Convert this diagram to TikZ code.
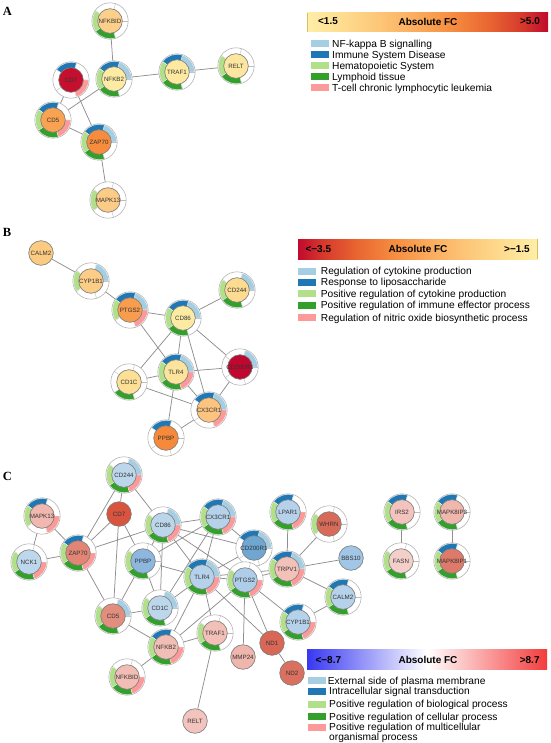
\documentclass[tikz,border=0pt]{standalone}
\usepackage{fontspec}
\setmainfont{Liberation Sans}
\newfontfamily\panelfont{Liberation Serif}
\usetikzlibrary{backgrounds,calc}
\definecolor{seg1}{HTML}{A6CEE3}
\definecolor{seg2}{HTML}{1F78B4}
\definecolor{seg3}{HTML}{B2DF8A}
\definecolor{seg4}{HTML}{33A02C}
\definecolor{seg5}{HTML}{FB9A99}
\definecolor{edgecol}{HTML}{8F8F8F}
\definecolor{nodeborder}{HTML}{7A7A7A}
\definecolor{ringcol}{HTML}{A8A8A8}
\definecolor{divcol}{HTML}{BDBDBD}
\definecolor{genetext}{HTML}{333333}
\definecolor{fa0}{HTML}{FFEEA8}
\definecolor{fa1}{HTML}{FEDD90}
\definecolor{fa2}{HTML}{FDC678}
\definecolor{fa3}{HTML}{FBAA5C}
\definecolor{fa4}{HTML}{F68D40}
\definecolor{fa5}{HTML}{E86431}
\definecolor{fa6}{HTML}{D5372C}
\definecolor{fa7}{HTML}{C00A2E}
\definecolor{baredge}{HTML}{D9BE62}
\definecolor{fcblue}{HTML}{3838F2}
\definecolor{fcred}{HTML}{F43C3C}
\pgfdeclarehorizontalshading{fcA}{100bp}{color(0bp)=(fa0); color(25bp)=(fa0); color(32bp)=(fa1); color(40bp)=(fa2); color(48bp)=(fa3); color(55bp)=(fa4); color(63bp)=(fa5); color(70bp)=(fa6); color(75bp)=(fa7); color(100bp)=(fa7)}
\pgfdeclarehorizontalshading{fcB}{100bp}{color(0bp)=(fa7); color(25bp)=(fa7); color(30bp)=(fa6); color(37bp)=(fa5); color(45bp)=(fa4); color(52bp)=(fa3); color(60bp)=(fa2); color(68bp)=(fa1); color(75bp)=(fa0); color(100bp)=(fa0)}
\pgfdeclarehorizontalshading{fcC}{100bp}{color(0bp)=(fcblue); color(25bp)=(fcblue); color(50bp)=(white); color(75bp)=(fcred); color(100bp)=(fcred)}
\tikzset{
  gene/.style={circle, draw=nodeborder, line width=0.6pt, minimum size=24.6pt, inner sep=0pt},
  genelabel/.style={inner sep=0pt, font=\fontsize{6.2}{7}\selectfont, text=genetext},
  edge/.style={draw=edgecol, line width=0.75pt},
  ringline/.style={draw=ringcol, line width=0.5pt},
  divline/.style={draw=divcol, line width=0.4pt},
  bartext/.style={inner sep=0pt, font=\fontsize{10}{12}\selectfont\bfseries},
  legtext/.style={inner sep=0pt, anchor=base west, font=\fontsize{10.2}{12}\selectfont},
  panel/.style={inner sep=0pt, font=\panelfont\fontsize{12.5}{14}\selectfont\bfseries},
}
\newcommand\ringnode[5]{%
  \definecolor{nf}{HTML}{#3}%
  \fill[white] #2 circle[radius=18.2pt];
  \foreach \k in {0,72,144,216,288}{\draw[divline] #2 ++(\k:12.3pt) -- ++(\k:5.9pt);}
  \foreach \s in {#5}{%
    \pgfmathsetmacro\sA{(\s-1)*72}%
    \pgfmathsetmacro\sB{\s*72}%
    \fill[fill=seg\s, draw=white, line width=0.25pt] #2 ++(\sA:17.6pt) arc[start angle=\sA, end angle=\sB, radius=17.6pt] -- ++({\sB+180}:5.6pt) arc[start angle=\sB, end angle=\sA, radius=12pt] -- cycle;
  }%
  \draw[ringline] #2 circle[radius=18.2pt];
  \node[gene, fill=nf] (#1) at #2 {};
  \node[genelabel] (#1t) at #2 {#4};
}
\newcommand\plainnode[4]{%
  \definecolor{nf}{HTML}{#3}%
  \node[gene, fill=nf] (#1) at #2 {};
  \node[genelabel] (#1t) at #2 {#4};
}
\newcommand\legrow[5]{% x swatch, y center, colour, text x, text
  \fill[#3] (#1,#2-3.5) rectangle (#1+17.5,#2+3.5);
  \node[legtext] at (#4,#2+3.4) {#5};
}
\begin{document}
\begin{tikzpicture}[x=1pt,y=-1pt]
\useasboundingbox (0,0) rectangle (550,743);
% panel letters
\node[panel] (lA) at (7.5,11.5) {A};
\node[panel] (lB) at (7,232.5) {B};
\node[panel] (lC) at (7.5,476.5) {C};

% ---------------- A ----------------
\ringnode{aNFKBID}{(110,21)}{FCD08A}{NFKBID}{3,4}
\ringnode{aNFKB2}{(114,79)}{FDEBA3}{NFKB2}{1,2,3,4}
\ringnode{aTRAF1}{(177,72)}{FDE9A0}{TRAF1}{1,2,3,4}
\ringnode{aRELT}{(236,66)}{FDE7A0}{RELT}{3,4}
\ringnode{aCD7}{(71,80)}{C40F2E}{CD7}{2,5}
\ringnode{aCD5}{(53,120)}{F9A352}{CD5}{2,3,4,5}
\ringnode{aZAP70}{(99,142)}{F78D3C}{ZAP70}{1,2,3,4}
\ringnode{aMAPK13}{(108,200)}{FCCB85}{MAPK13}{3}

% legend A
\shade[shading=fcA] (307,13) rectangle (548,32);
\draw[draw=baredge, line width=0.9pt] (307.45,13) -- (307.45,32);
\node[bartext] (aL) at (328,21.5) {<1.5};
\node[bartext] (aM) at (428,21.5) {Absolute FC};
\node[bartext] (aR) at (530,21.5) {>5.0};
\legrow{311}{44}{seg1}{332}{NF-kappa B signalling}
\legrow{311}{55}{seg2}{332}{Immune System Disease}
\legrow{311}{66}{seg3}{332}{Hematopoietic System}
\legrow{311}{77}{seg4}{332}{Lymphoid tissue}
\legrow{311}{88}{seg5}{332}{T-cell chronic lymphocytic leukemia}

% ---------------- B ----------------
\plainnode{bCALM2}{(41,253)}{FBCB82}{CALM2}
\ringnode{bCYP1B1}{(91,281)}{FCCD86}{CYP1B1}{1,3}
\ringnode{bPTGS2}{(130,310)}{F89D4D}{PTGS2}{1,2,3,5}
\ringnode{bCD86}{(183,318)}{FDEBA3}{CD86}{1,2,3,4}
\ringnode{bCD244}{(237,290)}{FDDC92}{CD244}{1,3,4}
\ringnode{bTLR4}{(176,372)}{FDE49C}{TLR4}{1,2,3,4,5}
\ringnode{bCD1C}{(129,382)}{FDDF96}{CD1C}{4}
\ringnode{bCD200R1}{(240,367)}{C0072F}{CD200R1}{1}
\ringnode{bCX3CR1}{(209,410)}{FCC47E}{CX3CR1}{1,2,5}
\ringnode{bPPBP}{(166,438)}{F78A3A}{PPBP}{2}

% legend B
\shade[shading=fcB] (298,239.3) rectangle (538,259.3);
\draw[draw=baredge, line width=0.9pt] (537.55,239.3) -- (537.55,259.3);
\node[bartext] (bL) at (318.3,248.8) {<−3.5};
\node[bartext] (bM) at (418,248.8) {Absolute FC};
\node[bartext] (bR) at (517,248.8) {>−1.5};
\legrow{298}{271.4}{seg1}{320.7}{Regulation of cytokine production}
\legrow{298}{282.5}{seg2}{320.7}{Response to liposaccharide}
\legrow{298}{293.7}{seg3}{320.7}{Positive regulation of cytokine production}
\legrow{298}{305.3}{seg4}{320.7}{Positive regulation of immune effector process}
\legrow{298}{317.6}{seg5}{320.7}{Regulation of nitric oxide biosynthetic process}

% ---------------- C ----------------
\ringnode{cCD244}{(124,475)}{BCD7EC}{CD244}{1,3,4,5}
\plainnode{cCD7}{(119,514)}{D9543F}{CD7}
\ringnode{cMAPK13}{(42,516)}{F0B8B0}{MAPK13}{2,3,5}
\ringnode{cZAP70}{(78,553)}{E28575}{ZAP70}{2,3,4,5}
\ringnode{cNCK1}{(29,562)}{BDD7EC}{NCK1}{3,4,5}
\ringnode{cCD86}{(163,525)}{BBD6EB}{CD86}{1,3,4,5}
\ringnode{cCX3CR1}{(218,517)}{B5D2EA}{CX3CR1}{1,2,3,4,5}
\ringnode{cCD200R1}{(254,548)}{6FA7D2}{CD200R1}{1,2}
\ringnode{cPPBP}{(143,561)}{8DB7DF}{PPBP}{3,4}
\ringnode{cTLR4}{(202,577)}{B5D2EA}{TLR4}{1,2,3,4,5}
\ringnode{cPTGS2}{(245,580)}{ADCDE8}{PTGS2}{3,4,5}
\ringnode{cCD5}{(113,616)}{E28E7E}{CD5}{1,3,4}
\ringnode{cCD1C}{(160,608)}{BCD7EC}{CD1C}{1,3,4}
\ringnode{cNFKB2}{(166,647)}{F1BDB5}{NFKB2}{2,3,4,5}
\ringnode{cTRAF1}{(215,633)}{F2C0B8}{TRAF1}{3,4}
\plainnode{cMMP24}{(243,657)}{EFB6AD}{MMP24}
\ringnode{cNFKBID}{(127,677)}{F2BDB5}{NFKBID}{3,4,5}
\plainnode{cRELT}{(195,721)}{F2C4BD}{RELT}
\plainnode{cND1}{(272,643)}{D86756}{ND1}
\plainnode{cND2}{(292,673)}{DA7060}{ND2}
\ringnode{cLPAR1}{(288,512)}{B5D2EA}{LPAR1}{2,3,4,5}
\ringnode{cWHRN}{(329,524)}{D86A5A}{WHRN}{3}
\plainnode{cBBS10}{(351,558)}{A2C6E6}{BBS10}
\ringnode{cTRPV1}{(287,569)}{F2C1B9}{TRPV1}{1,2,3,4,5}
\ringnode{cCALM2}{(343,597)}{B5D2EA}{CALM2}{2,3,4}
\ringnode{cCYP1B1}{(298,622)}{B5D2EA}{CYP1B1}{2,3,4,5}
\ringnode{cIRS2}{(402,512)}{F2C4BD}{IRS2}{2,3,4}
\ringnode{cFASN}{(401,561)}{F4CFC9}{FASN}{3,4}
\ringnode{cMAPK8IP3}{(452,512)}{EFB7AE}{MAPK8IP3}{2,3,4}
\ringnode{cMAPK8IP1}{(452,561)}{DD7A6A}{MAPK8IP1}{2,3,4}

% legend C
\shade[shading=fcC] (307,649) rectangle (547,669);
\node[bartext] (cL) at (328.3,660) {<−8.7};
\node[bartext] (cM) at (428,660) {Absolute FC};
\node[bartext] (cR) at (529.7,660) {>8.7};
\legrow{308}{680.8}{seg1}{327.7}{External side of plasma membrane}
\legrow{308}{691.2}{seg2}{329}{Intracellular signal transduction}
\legrow{308}{704.2}{seg3}{329}{Positive regulation of biological process}
\legrow{308}{716.7}{seg4}{329}{Positive regulation of cellular process}
\legrow{308}{727.3}{seg5}{329}{Positive regulation of multicellular}
\node[legtext] (cL2) at (329,740.2) {organismal process};

% ---------------- edges (behind) ----------------
\begin{pgfonlayer}{background}
\fill[white] (0,0) rectangle (550,743);
\foreach \u/\v in {aNFKBID/aNFKB2, aNFKB2/aTRAF1, aTRAF1/aRELT, aNFKB2/aCD5, aCD7/aCD5, aCD7/aZAP70, aCD5/aZAP70, aZAP70/aMAPK13}
  \draw[edge] (\u) -- (\v);
\foreach \u/\v in {bCALM2/bCYP1B1, bCYP1B1/bPTGS2, bPTGS2/bCD86, bCD86/bCD244, bPTGS2/bTLR4, bCD86/bTLR4, bCD86/bCD1C, bCD86/bCD200R1, bCD86/bCX3CR1, bTLR4/bCD200R1, bTLR4/bCD1C, bTLR4/bCX3CR1, bTLR4/bPPBP, bCD1C/bCX3CR1, bCD200R1/bCX3CR1, bCX3CR1/bPPBP}
  \draw[edge] (\u) -- (\v);
\foreach \u/\v in {cNFKBID/cNFKB2, cNFKB2/cTRAF1, cTRAF1/cRELT, cNFKB2/cCD5, cCD7/cCD5, cCD7/cZAP70, cCD5/cZAP70, cZAP70/cMAPK13,
  cCALM2/cCYP1B1, cCYP1B1/cPTGS2, cPTGS2/cCD86, cCD86/cCD244, cPTGS2/cTLR4, cCD86/cTLR4, cCD86/cCD1C, cCD86/cCD200R1, cCD86/cCX3CR1, cTLR4/cCD200R1, cTLR4/cCD1C, cTLR4/cCX3CR1, cTLR4/cPPBP, cCD1C/cCX3CR1, cCD200R1/cCX3CR1, cCX3CR1/cPPBP,
  cMAPK13/cNCK1, cNCK1/cZAP70, cCD244/cZAP70, cCD244/cCD7, cCD7/cPPBP, cZAP70/cCD86, cCD86/cPPBP, cPPBP/cCD5, cPPBP/cCD1C, cCD5/cCD1C, cTLR4/cNFKB2, cTLR4/cTRAF1, cTLR4/cND1, cPTGS2/cND1, cPTGS2/cMMP24, cPTGS2/cNFKB2, cPTGS2/cTRPV1, cTLR4/cTRPV1, cND1/cND2, cTRPV1/cLPAR1, cTRPV1/cWHRN, cTRPV1/cBBS10, cTRPV1/cCALM2, cIRS2/cFASN, cMAPK8IP3/cMAPK8IP1}
  \draw[edge] (\u) -- (\v);
\end{pgfonlayer}
\end{tikzpicture}
\end{document}
